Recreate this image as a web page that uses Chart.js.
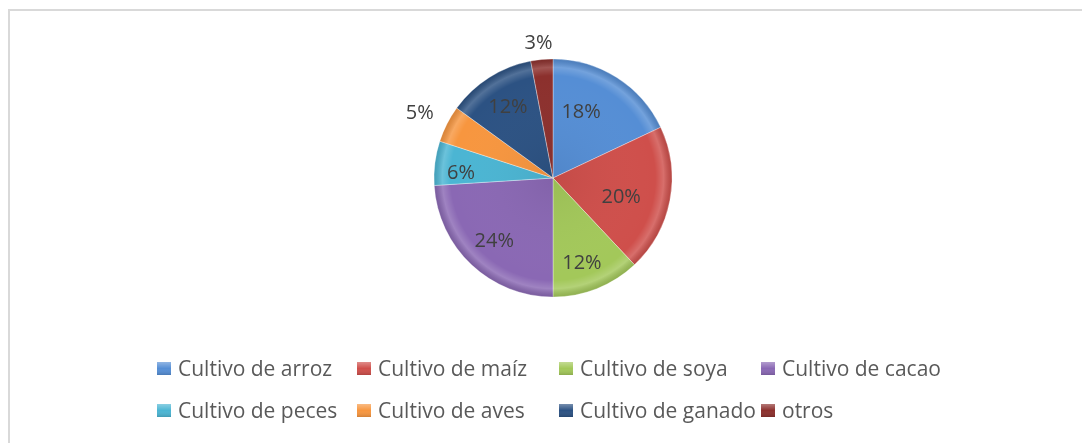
<!DOCTYPE html>
<html>
<head>
<meta charset="utf-8">
<script src="https://cdn.jsdelivr.net/npm/chart.js@4/dist/chart.umd.min.js"></script>
<style>
  html, body { margin: 0; padding: 0; background: #fff; }
  #wrap { position: relative; width: 1082px; height: 443px; }
  #frameTop { position: absolute; left: 8px; top: 9px; width: 1074px; height: 2px; background: #d9d9d9; }
  #frameLeft { position: absolute; left: 8px; top: 9px; width: 2px; height: 434px; background: #d9d9d9; }
  canvas { position: absolute; left: 0; top: 0; }
</style>
</head>
<body>
<div id="wrap">
  <div id="frameTop"></div>
  <div id="frameLeft"></div>
  <canvas id="pieCanvas" width="1082" height="443"></canvas>
</div>
<script>
// datos del grafico
const categorias = ['Cultivo de arroz', 'Cultivo de maíz', 'Cultivo de soya', 'Cultivo de cacao',
                    'Cultivo de peces', 'Cultivo de aves', 'Cultivo de ganado', 'otros'];
const porcentajes = [18, 20, 12, 24, 6, 5, 12, 3];
const colores = ['#558ed5', '#cf4f4b', '#a3c85a', '#8a68b4', '#4bb5d3', '#f7963f', '#2c5283', '#8c302d'];

const fuente = "'Open Sans', 'Noto Sans', sans-serif";

// ajuste fino de las etiquetas (px) y rejilla de la leyenda, como en Excel
const ajusteEtiquetas = [[-14, 1], [-9, 5], [0, 12], [-5, 6], [-14, 5], [-6, 0], [-3, -4], [-1, 7]];
const columnasLeyenda = [157, 357, 559, 761];
const filasLeyenda = [370, 412];

// etiquetas de porcentaje (dentro o fuera de la torta)
const etiquetasPlugin = {
  id: 'etiquetas',
  afterDatasetsDraw(chart) {
    const ctx = chart.ctx;
    const meta = chart.getDatasetMeta(0);
    ctx.save();
    ctx.font = '20px ' + fuente;
    ctx.fillStyle = '#404040';
    ctx.textAlign = 'center';
    ctx.textBaseline = 'middle';
    meta.data.forEach((arc, i) => {
      const { x, y, startAngle, endAngle, outerRadius } = arc.getProps(['x', 'y', 'startAngle', 'endAngle', 'outerRadius'], true);
      const mid = (startAngle + endAngle) / 2;
      const valor = chart.data.datasets[0].data[i];
      const f = valor <= 5 ? 1.2 : 0.66;
      const [ax, ay] = ajusteEtiquetas[i];
      ctx.fillText(valor + '%', x + Math.cos(mid) * outerRadius * f + ax, y + Math.sin(mid) * outerRadius * f + ay);
    });
    ctx.restore();
  }
};

// brillo en el borde, parecido al bisel de Excel
const biselPlugin = {
  id: 'bisel',
  afterDatasetsDraw(chart) {
    const ctx = chart.ctx;
    const meta = chart.getDatasetMeta(0);
    meta.data.forEach(arc => {
      const { x, y, startAngle, endAngle, outerRadius } = arc.getProps(['x', 'y', 'startAngle', 'endAngle', 'outerRadius'], true);
      ctx.save();
      ctx.beginPath();
      ctx.moveTo(x, y);
      ctx.arc(x, y, outerRadius, startAngle, endAngle);
      ctx.closePath();
      ctx.clip();
      const g = ctx.createRadialGradient(x, y, 0, x, y, outerRadius);
      g.addColorStop(0, 'rgba(0,0,0,0.06)');
      g.addColorStop(0.86, 'rgba(255,255,255,0)');
      g.addColorStop(0.93, 'rgba(255,255,255,0.18)');
      g.addColorStop(1, 'rgba(0,0,0,0.12)');
      ctx.fillStyle = g;
      ctx.fill();
      ctx.restore();
    });
  }
};

// leyenda dibujada a mano en rejilla de 4 columnas
const leyendaPlugin = {
  id: 'leyendaExcel',
  afterDraw(chart) {
    const ctx = chart.ctx;
    ctx.save();
    ctx.font = '21px ' + fuente;
    ctx.textAlign = 'left';
    ctx.textBaseline = 'middle';
    chart.data.labels.forEach((txt, i) => {
      const bx = columnasLeyenda[i % 4];
      const cy = filasLeyenda[Math.floor(i / 4)];
      const by = cy - 8;
      const g = ctx.createLinearGradient(0, by, 0, by + 13);
      g.addColorStop(0, 'rgba(255,255,255,0.35)');
      g.addColorStop(0.5, 'rgba(255,255,255,0)');
      g.addColorStop(1, 'rgba(0,0,0,0.15)');
      ctx.fillStyle = colores[i];
      ctx.fillRect(bx, by, 14, 13);
      ctx.fillStyle = g;
      ctx.fillRect(bx, by, 14, 13);
      ctx.fillStyle = '#595959';
      ctx.fillText(txt, bx + 21, cy);
    });
    ctx.restore();
  }
};

const ctxPie = document.getElementById('pieCanvas').getContext('2d');
const pieChart = new Chart(ctxPie, {
  type: 'pie',
  data: {
    labels: categorias,
    datasets: [{
      data: porcentajes,
      backgroundColor: colores,
      borderColor: 'rgba(255,255,255,0.35)',
      borderWidth: 1,
      radius: 119
    }]
  },
  options: {
    responsive: false,
    animation: false,
    layout: { padding: { left: 136, right: 112, top: 18, bottom: 105 } },
    plugins: {
      tooltip: { enabled: false },
      legend: { display: false }
    }
  },
  plugins: [biselPlugin, etiquetasPlugin, leyendaPlugin]
});
</script>
</body>
</html>
